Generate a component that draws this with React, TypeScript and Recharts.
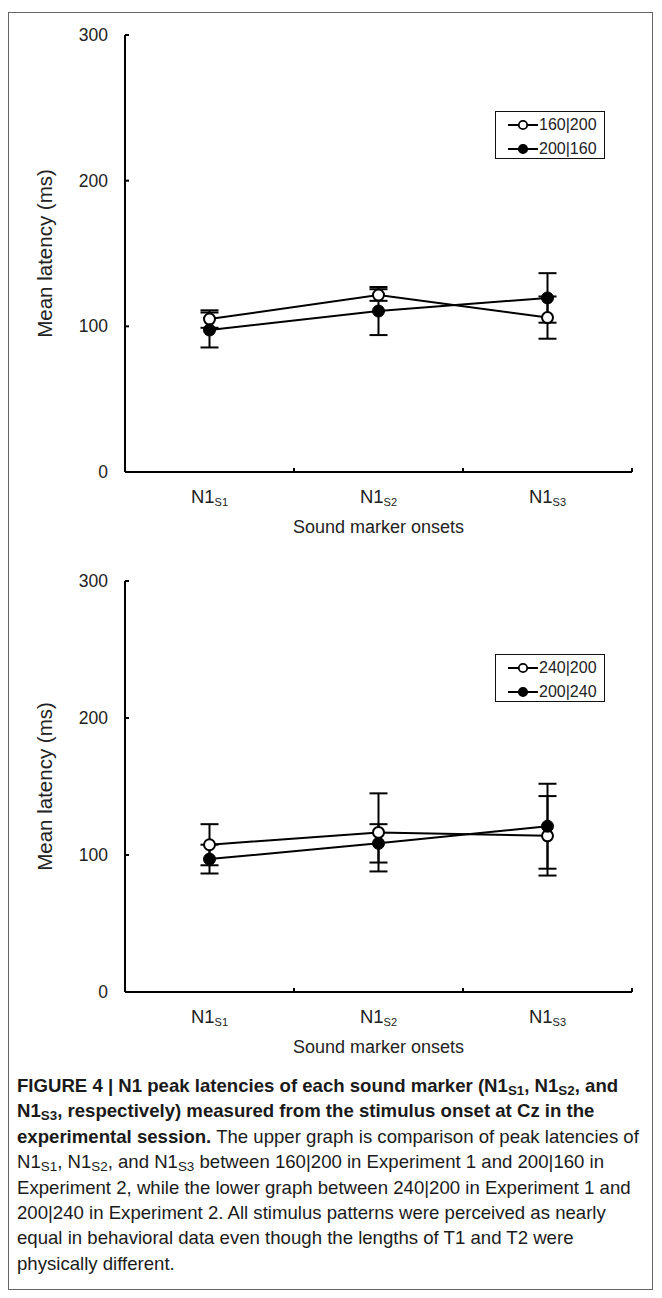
import { LineChart, Line, XAxis, YAxis, ErrorBar, Label } from 'recharts';

const categories = ['S1', 'S2', 'S3'];
const yTicks = [0, 100, 200, 300];

// upper graph
const upperOpenName = '160|200';
const upperOpen = [105, 121.5, 106];
const upperOpenErr = [6, 4, 14.5];
const upperFilledName = '200|160';
const upperFilled = [97.5, 110.5, 119.5];
const upperFilledErr = [12, 16.5, 17];

// lower graph
const lowerOpenName = '240|200';
const lowerOpen = [107.5, 116.5, 114];
const lowerOpenErr = [15, 28.5, 29];
const lowerFilledName = '200|240';
const lowerFilled = [97, 108.5, 121];
const lowerFilledErr = [10.5, 14, 31];

const FONT = 'Liberation Sans, Arial, sans-serif';
const TXT = '#222';

function buildRows(open: number[], openErr: number[], filled: number[], filledErr: number[]) {
    return categories.map((c, i) => ({
        name: c,
        open: open[i],
        openErr: openErr[i],
        filled: filled[i],
        filledErr: filledErr[i],
    }));
}

// category label + small inward tick at the right edge of each band
const XTick = (props: any) => {
    const { x, y, payload } = props;
    const bx = payload.coordinate + (payload.offset ?? 0);
    return (
        <g>
            <line x1={bx} y1={y} x2={bx} y2={y - 4} stroke="#000" strokeWidth={2} />
            <text x={x} y={y + 31} textAnchor="middle" fontFamily={FONT} fontSize={18.5} fill={TXT}>
                <tspan>N1</tspan>
                <tspan fontSize={11} dy={3}>{payload.value}</tspan>
            </text>
        </g>
    );
};

const YTick = (props: any) => {
    const { x, y, payload } = props;
    return (
        <g>
            <line x1={x} y1={y} x2={x + 4} y2={y} stroke="#000" strokeWidth={2} />
            <text x={x - 17} y={y + 6} textAnchor="end" fontFamily={FONT} fontSize={17.5} fill={TXT}>
                {payload.value}
            </text>
        </g>
    );
};

const OpenDot = (props: any) => {
    const { cx, cy } = props;
    if (cx == null || cy == null) return null;
    return <circle cx={cx} cy={cy} r={5.5} fill="#fff" stroke="#000" strokeWidth={2} />;
};

const FilledDot = (props: any) => {
    const { cx, cy } = props;
    if (cx == null || cy == null) return null;
    return <circle cx={cx} cy={cy} r={6} fill="#000" stroke="#000" strokeWidth={1} />;
};

function LegendBox({ names, top }: { names: string[], top: number }) {
    return (
        <div style={{
            position: 'absolute', left: 495, top, width: 110, height: 48,
            border: '1.5px solid #111', background: '#fff', boxSizing: 'border-box',
            fontFamily: FONT, fontSize: 16, color: TXT,
        }}>
            {names.map((n, i) => (
                <div key={n} style={{ position: 'absolute', left: 12, top: 3 + i * 24, height: 19, display: 'flex', alignItems: 'center' }}>
                    <svg width={30} height={12} style={{ display: 'block' }}>
                        <line x1={0} y1={6} x2={30} y2={6} stroke="#000" strokeWidth={2} />
                        <circle cx={15} cy={6} r={4.2} fill={i === 0 ? '#fff' : '#000'} stroke="#000" strokeWidth={1.8} />
                    </svg>
                    <span style={{ marginLeft: 1 }}>{n}</span>
                </div>
            ))}
        </div>
    );
}

function Panel({ rows, names, top, height, legendTop }: { rows: any[], names: string[], top: number, height: number, legendTop: number }) {
    return (
        <div style={{ position: 'absolute', left: 0, top, width: 662, height }}>
            <LineChart width={662} height={height} data={rows} margin={{ top: 35, right: 30, bottom: 48, left: 0 }}>
                <XAxis
                    dataKey="name"
                    scale="band"
                    height={40}
                    tickSize={0}
                    tickMargin={0}
                    tickLine={false}
                    axisLine={{ stroke: '#000', strokeWidth: 2 }}
                    tick={<XTick />}
                    interval={0}
                >
                    <Label value="Sound marker onsets" position="bottom" offset={8} fontFamily={FONT} fontSize={18} fill={TXT} />
                </XAxis>
                <YAxis
                    domain={[0, 300]}
                    ticks={yTicks}
                    width={125}
                    tickSize={0}
                    tickMargin={0}
                    tickLine={false}
                    axisLine={{ stroke: '#000', strokeWidth: 2 }}
                    tick={<YTick />}
                    interval={0}
                >
                    <Label value="Mean latency (ms)" angle={-90} position="insideLeft" offset={45}
                        style={{ textAnchor: 'middle', fontFamily: FONT, fontSize: 20.5, fill: TXT }} />
                </YAxis>
                <Line dataKey="open" name={names[0]} stroke="#000" strokeWidth={2} dot={<OpenDot />} activeDot={false} isAnimationActive={false}>
                    <ErrorBar dataKey="openErr" width={9} stroke="#000" strokeWidth={2} direction="y" />
                </Line>
                <Line dataKey="filled" name={names[1]} stroke="#000" strokeWidth={2} dot={<FilledDot />} activeDot={false} isAnimationActive={false}>
                    <ErrorBar dataKey="filledErr" width={9} stroke="#000" strokeWidth={2} direction="y" />
                </Line>
            </LineChart>
            <LegendBox names={names} top={legendTop} />
        </div>
    );
}

const sub = (s: string) => <sub style={{ fontSize: '0.72em', verticalAlign: '-0.25em', lineHeight: 0 }}>{s}</sub>;

export default function App() {
    const upperRows = buildRows(upperOpen, upperOpenErr, upperFilled, upperFilledErr);
    const lowerRows = buildRows(lowerOpen, lowerOpenErr, lowerFilled, lowerFilledErr);
    const lineStyle: React.CSSProperties = { whiteSpace: 'nowrap', height: 25.4 };
    return (
        <div style={{ position: 'absolute', left: 0, top: 0, width: 662, height: 1298, background: '#fff' }}>
            <div style={{ position: 'absolute', left: 8, top: 12, width: 645, height: 1278, border: '1.5px solid #666', boxSizing: 'border-box' }} />
            <Panel rows={upperRows} names={[upperOpenName, upperFilledName]} top={0} height={560} legendTop={111} />
            <Panel rows={lowerRows} names={[lowerOpenName, lowerFilledName]} top={546} height={534} legendTop={108} />
            <div style={{ position: 'absolute', left: 17, top: 1073, fontFamily: FONT, fontSize: 18.6, color: '#1a1a1a', lineHeight: '25.4px' }}>
                <div style={{ ...lineStyle, fontWeight: 'bold' }}>FIGURE 4 | N1 peak latencies of each sound marker (N1{sub('S1')}, N1{sub('S2')}, and</div>
                <div style={{ ...lineStyle, fontWeight: 'bold' }}>N1{sub('S3')}, respectively) measured from the stimulus onset at Cz in the</div>
                <div style={lineStyle}><b>experimental session.</b> The upper graph is comparison of peak latencies of</div>
                <div style={lineStyle}>N1{sub('S1')}, N1{sub('S2')}, and N1{sub('S3')} between 160|200 in Experiment 1 and 200|160 in</div>
                <div style={lineStyle}>Experiment 2, while the lower graph between 240|200 in Experiment 1 and</div>
                <div style={lineStyle}>200|240 in Experiment 2. All stimulus patterns were perceived as nearly</div>
                <div style={lineStyle}>equal in behavioral data even though the lengths of T1 and T2 were</div>
                <div style={lineStyle}>physically different.</div>
            </div>
        </div>
    );
}
